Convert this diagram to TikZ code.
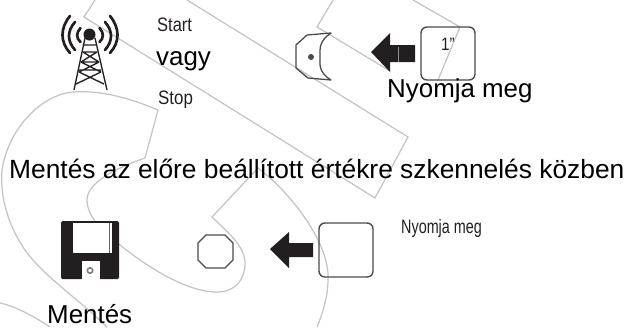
\documentclass[tikz,border=0pt]{standalone}
\usepackage{fontspec}
\usepackage{graphicx}
\setmainfont{Liberation Sans}
\definecolor{stripe}{HTML}{C4C4C4}
\definecolor{ink}{HTML}{231F20}
\definecolor{keyline}{HTML}{4A4A4A}
\tikzset{
  stripeline/.style={draw=stripe,line width=1.25pt,line join=miter},
  keybox/.style={draw=keyline,line width=1.4pt,rounded corners=6pt},
  solidicon/.style={fill=ink,draw=none},
  wave/.style={draw=ink,line width=2.7pt,line cap=round},
  mast/.style={draw=ink,line width=1.35pt},
  bigtext/.style={inner sep=0pt,anchor=base west,font=\fontsize{26}{26}\selectfont,text=black},
  smalltext/.style={inner sep=0pt,anchor=base west,font=\fontsize{19.5}{20}\selectfont,text=ink}
}
\begin{document}
\begin{tikzpicture}[x=1bp,y=-1bp]
\useasboundingbox (0,0) rectangle (627,327);
\clip (0,0) rectangle (627,327);
% background stripes
\draw[stripeline] (95,0) -- (84,17) -- (375,198) -- (408,137) -- (187,0);
\draw[stripeline] (333,0) -- (317,27) -- (390,71);
\draw[stripeline] (413,0) -- (460,27);
\draw[stripeline] (460,27) -- (438,80);
\draw[stripeline] (145,158) -- (158,110) .. controls (130,98) and (100,90) .. (73,92)
  .. controls (40,95) and (8,130) .. (2,170)
  .. controls (-1,205) and (15,240) .. (33,260)
  .. controls (50,280) and (85,305) .. (107,327);
\draw[stripeline] (145,158) .. controls (125,165) and (87,180) .. (87,200)
  .. controls (87,215) and (100,230) .. (120,245)
  .. controls (145,265) and (185,292) .. (217,292)
  .. controls (235,292) and (245,280) .. (245,263)
  .. controls (245,245) and (225,230) .. (212,217)
  -- (258,168) -- (270,178)
  .. controls (295,200) and (330,245) .. (328,280)
  .. controls (328,297) and (322,315) .. (317,327);
\draw[stripeline] (0,303) .. controls (15,306) and (35,317) .. (50,327);
% tower
\fill[ink] (89.5,34.5) circle (6);
\draw[mast] (85,38) -- (74,90) (95,38) -- (107,90);
\draw[mast] (84,45) -- (96,45) (83,52) -- (97,52) (81,62) -- (99,62) (79,70) -- (101,70)
  (83,52) -- (99,62) (97,52) -- (81,62) (81,62) -- (101,72) (99,62) -- (79,72)
  (79,72) -- (104,84) (101,72) -- (76,84);
\draw[wave] (70,16) .. controls (60,28) and (60,42) .. (70,53);
\draw[wave] (75,22) .. controls (67,31) and (67,41) .. (75,50);
\draw[wave] (80.5,28) .. controls (76,33) and (76,38) .. (80.5,42);
\draw[wave] (110,16) .. controls (120,28) and (120,42) .. (110,53);
\draw[wave] (105,22) .. controls (113,31) and (113,41) .. (105,50);
\draw[wave] (99.5,28) .. controls (104,33) and (104,38) .. (99.5,42);
% knob with concave side
\draw[draw=keyline,line width=1.3pt,line join=round] (331,33) -- (307,35) -- (296,45) -- (296,68) -- (308,78) -- (331,80)
  .. controls (318,72) and (320,64) .. (320,56) .. controls (320,48) and (319,41) .. cycle;
\fill[keyline] (311,57) circle (3);
% arrows
\fill[solidicon] (371,52) -- (390,33) -- (390,45) -- (415,45) -- (415,62) -- (390,62) -- (390,72) -- cycle;
\fill[keyline!60] (397.5,47) rectangle (399,62);
\fill[solidicon] (270,249) -- (289,232) -- (289,243) -- (313,243) -- (313,257) -- (289,257) -- (289,268) -- cycle;
% keys
\draw[keybox] (421,27) rectangle (475,80);
\draw[keybox] (319,223) rectangle (373,277);
% octagon
\draw[draw=keyline,line width=1.3pt] (206,235) -- (225,235) -- (233,243) -- (233,260) -- (225,268) -- (206,268) -- (198,260) -- (198,243) -- cycle;
% floppy
\draw[solidicon,rounded corners=1.5pt,fill=ink] (61,221) rectangle (119,279);
\fill[white] (73,223) rectangle (112,253);
\draw[draw=ink!70,line width=0.7pt] (109,223) -- (109,253);
\fill[white] (82,261) rectangle (100,281);
\draw[draw=gray,line width=1.6pt] (90,270.5) circle (2.7);
% texts
\node[bigtext,font=\fontsize{26.45}{26}\selectfont] (lead) at (9,178) {Mentés az előre beállított értékre szkennelés közben};
\node[bigtext] (save) at (47,323) {Mentés};
\node[bigtext] (orword) at (156,65) {vagy};
\node[bigtext] (press) at (387,97) {Nyomja meg};
\node[smalltext] (start) at (157,31) {\scalebox{.85}[1]{Start}};
\node[smalltext] (stop) at (158,104) {\scalebox{.87}[1]{Stop}};
\node[smalltext] (pressb) at (401,233) {\scalebox{.74}[1]{Nyomja meg}};
\node[inner sep=0pt,anchor=base west,font=\fontsize{18}{18}\selectfont,text=ink] (sec) at (441,50) {\scalebox{.85}[1]{1”}};
\end{tikzpicture}
\end{document}
